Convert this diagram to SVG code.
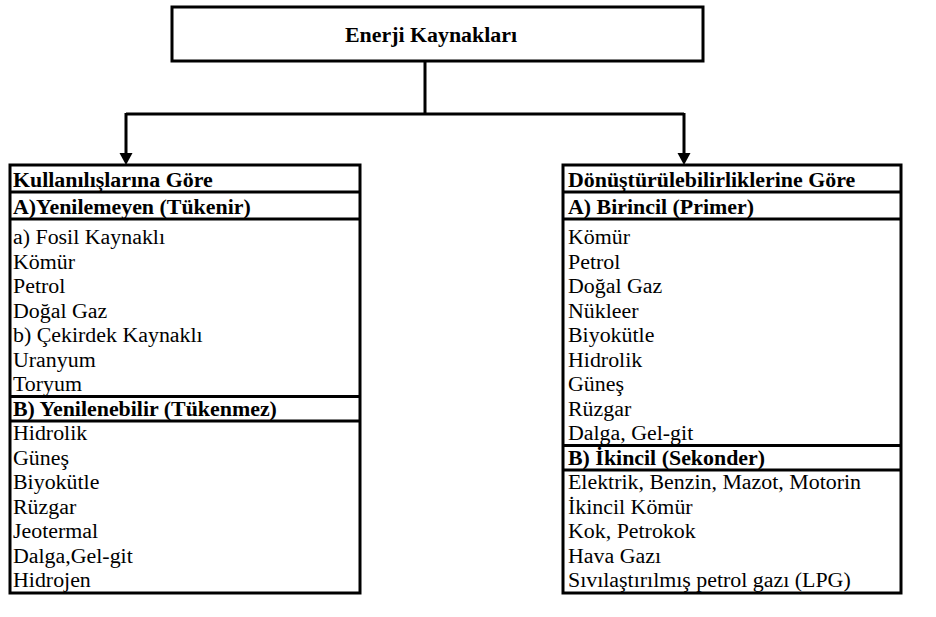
<svg xmlns="http://www.w3.org/2000/svg" width="936" height="617" viewBox="0 0 936 617">
<style>
.box{fill:#fff;stroke:#000;stroke-width:3}
.sep{stroke:#000;stroke-width:3}
.con{fill:none;stroke:#000;stroke-width:3}
.t{font-size:21.9px;fill:#000}
.b{font-weight:bold}
</style>
<g id="connectors">
<path class="con" d="M425,61 V114 M126,114 H684 M126,113 V154 M684,113 V154"/>
<polygon points="119.5,153 132.5,153 126,165" fill="#000"/>
<polygon points="677.5,153 690.5,153 684,165" fill="#000"/>
</g>
<g id="root" font-family="'Liberation Serif', 'Times New Roman', serif">
<rect class="box" x="172" y="7" width="531" height="54"/>
<text class="t b" x="431" y="42" text-anchor="middle">Enerji Kaynakları</text>
</g>
<g id="left-table" font-family="'Liberation Serif', 'Times New Roman', serif">
<rect class="box" x="10" y="165" width="350" height="428"/>
<line class="sep" x1="10" y1="192" x2="360" y2="192"/>
<line class="sep" x1="10" y1="219" x2="360" y2="219"/>
<line class="sep" x1="10" y1="396.5" x2="360" y2="396.5"/>
<line class="sep" x1="10" y1="421" x2="360" y2="421"/>
<text class="t b" x="13" y="187">Kullanılışlarına Göre</text>
<text class="t b" x="13" y="214">A)Yenilemeyen (Tükenir)</text>
<text class="t" x="13" y="244">a) Fosil Kaynaklı</text>
<text class="t" x="13" y="268.5">Kömür</text>
<text class="t" x="13" y="293">Petrol</text>
<text class="t" x="13" y="317.5">Doğal Gaz</text>
<text class="t" x="13" y="342">b) Çekirdek Kaynaklı</text>
<text class="t" x="13" y="366.5">Uranyum</text>
<text class="t" x="13" y="391">Toryum</text>
<text class="t b" x="13" y="415.5">B) Yenilenebilir (Tükenmez)</text>
<text class="t" x="13" y="440">Hidrolik</text>
<text class="t" x="13" y="464.5">Güneş</text>
<text class="t" x="13" y="489">Biyokütle</text>
<text class="t" x="13" y="513.5">Rüzgar</text>
<text class="t" x="13" y="538">Jeotermal</text>
<text class="t" x="13" y="562.5">Dalga,Gel-git</text>
<text class="t" x="13" y="587">Hidrojen</text>
</g>
<g id="right-table" font-family="'Liberation Serif', 'Times New Roman', serif">
<rect class="box" x="563" y="165" width="338" height="428"/>
<line class="sep" x1="563" y1="192" x2="901" y2="192"/>
<line class="sep" x1="563" y1="219" x2="901" y2="219"/>
<line class="sep" x1="563" y1="445.5" x2="901" y2="445.5"/>
<line class="sep" x1="563" y1="470" x2="901" y2="470"/>
<text class="t b" x="568" y="187">Dönüştürülebilirliklerine Göre</text>
<text class="t b" x="568" y="214">A) Birincil (Primer)</text>
<text class="t" x="568" y="244">Kömür</text>
<text class="t" x="568" y="268.5">Petrol</text>
<text class="t" x="568" y="293">Doğal Gaz</text>
<text class="t" x="568" y="317.5">Nükleer</text>
<text class="t" x="568" y="342">Biyokütle</text>
<text class="t" x="568" y="366.5">Hidrolik</text>
<text class="t" x="568" y="391">Güneş</text>
<text class="t" x="568" y="415.5">Rüzgar</text>
<text class="t" x="568" y="440">Dalga, Gel-git</text>
<text class="t b" x="568" y="464.5">B) İkincil (Sekonder)</text>
<text class="t" x="568" y="489">Elektrik, Benzin, Mazot, Motorin</text>
<text class="t" x="568" y="513.5">İkincil Kömür</text>
<text class="t" x="568" y="538">Kok, Petrokok</text>
<text class="t" x="568" y="562.5">Hava Gazı</text>
<text class="t" x="568" y="587">Sıvılaştırılmış petrol gazı (LPG)</text>
</g>
</svg>
